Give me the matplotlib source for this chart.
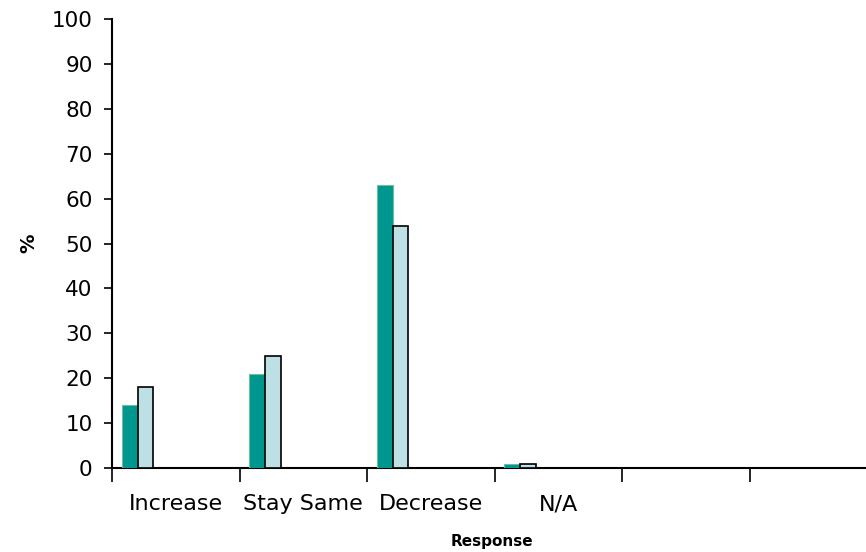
import matplotlib.pyplot as plt
import numpy as np

# responses and the two series (percent)
categorias = ["Increase", "Stay Same", "Decrease", "N/A", "", ""]
serie_a = [14, 21, 63, 1]
serie_b = [18, 25, 54, 1]
y_ticks = list(range(0, 101, 10))

cor_a = "#009690"
cor_b = "#BCE0E4"

fig = plt.figure(figsize=(8.66, 5.52), dpi=100)
# axes run past the right edge so the last slot is cut off
ax = fig.add_axes([112 / 866, 84 / 552, 765 / 866, 449 / 552])

n = len(categorias)
largura = 0.122
x = np.arange(len(serie_a))

ax.bar(x + 0.078, serie_a, width=largura, align="edge", color=cor_a,
       edgecolor="#6dbf9a", linewidth=0.8, zorder=3)
ax.bar(x + 0.078 + largura, serie_b, width=largura, align="edge", color=cor_b,
       edgecolor="black", linewidth=1.2, zorder=3)

ax.set_xlim(0, n)
ax.set_ylim(0, 100)
ax.set_yticks(y_ticks)
ax.tick_params(axis="y", labelsize=15.5, length=6, width=1.2, pad=8)

# ticks on the slot boundaries, labels in the middle of each slot
ax.set_xticks(np.arange(n))
ax.set_xticklabels([])
ax.set_xticks(np.arange(n) + 0.5, minor=True)
ax.set_xticklabels(categorias, minor=True)
ax.tick_params(axis="x", which="major", length=10, width=1.2)
ax.tick_params(axis="x", which="minor", length=0, labelsize=16, pad=19)

for lado in ["top", "right"]:
    ax.spines[lado].set_visible(False)
for lado in ["left", "bottom"]:
    ax.spines[lado].set_linewidth(1.5)

ax.set_ylabel("%", fontsize=14, fontweight="bold")
ax.yaxis.set_label_coords(-74 / 765, 0.5)
ax.set_xlabel("Response", fontsize=11, fontweight="bold")
ax.xaxis.set_label_coords((492 - 112) / 765, -66 / 449)

fig.savefig("out.png", dpi=100)
